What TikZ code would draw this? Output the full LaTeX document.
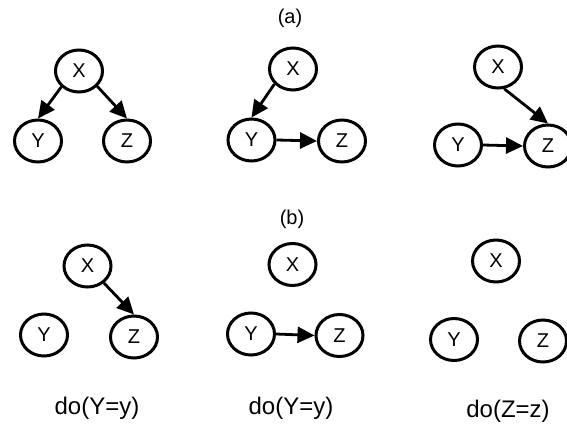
\documentclass[tikz,border=0pt]{standalone}
\usepackage{fontspec}
\setmainfont{Liberation Sans}
\usetikzlibrary{shapes.geometric,arrows.meta}

\begin{document}
\begin{tikzpicture}[x=1pt,y=-1pt,
  var/.style={ellipse,draw,line width=3pt,minimum width=47pt,minimum height=42pt,
              inner sep=0pt,font=\fontsize{20}{20}\selectfont},
  link/.style={line width=2.8pt,-{Triangle[length=17pt,width=16pt]}},
  caption/.style={font=\fontsize{24}{24}\selectfont},
  paneltitle/.style={font=\fontsize{20}{20}\selectfont}]

\useasboundingbox (0,0) rectangle (567,423);

% ---------- (a) ----------
\node[paneltitle] (ta) at (290,18) {(a)};

% fork: X -> Y, X -> Z
\node[var] (a1x) at (79,71)  {X};
\node[var] (a1y) at (38,141) {Y};
\node[var] (a1z) at (127,141) {Z};
\draw[link] (a1x.222) -- (a1y.north);
\draw[link] (a1x.320) -- (a1z.north);

% chain: X -> Y -> Z
\node[var] (a2x) at (293,69)  {X};
\node[var] (a2y) at (251.5,140) {Y};
\node[var] (a2z) at (342,141) {Z};
\draw[link] (a2x.219) -- (a2y.north);
\draw[link] (a2y.east) -- (a2z.west);

% collider: X -> Z <- Y
\node[var] (a3x) at (498,67)  {X};
\node[var] (a3y) at (458,145) {Y};
\node[var] (a3z) at (548,146) {Z};
\draw[link] (a3x.286) -- (a3z.north);
\draw[link] (a3y.east) -- (a3z.west);

% ---------- (b) ----------
\node[paneltitle] (tb) at (292,219) {(b)};

\node[var] (b1x) at (87.5,266) {X};
\node[var] (b1y) at (44,335)   {Y};
\node[var] (b1z) at (134,337)  {Z};
\draw[link] (b1x.314) -- (b1z.north);
\node[caption] (c1) at (97,408) {do(Y=y)};

\node[var] (b2x) at (292.5,264.5) {X};
\node[var] (b2y) at (251,334)     {Y};
\node[var] (b2z) at (339.5,335.5) {Z};
\draw[link] (b2y.east) -- (b2z.west);
\node[caption] (c2) at (291,408) {do(Y=y)};

\node[var] (b3x) at (496,261)   {X};
\node[var] (b3y) at (454,339.5) {Y};
\node[var] (b3z) at (543,341)   {Z};
\node[caption] (c3) at (508,411) {do(Z=z)};

\end{tikzpicture}
\end{document}
